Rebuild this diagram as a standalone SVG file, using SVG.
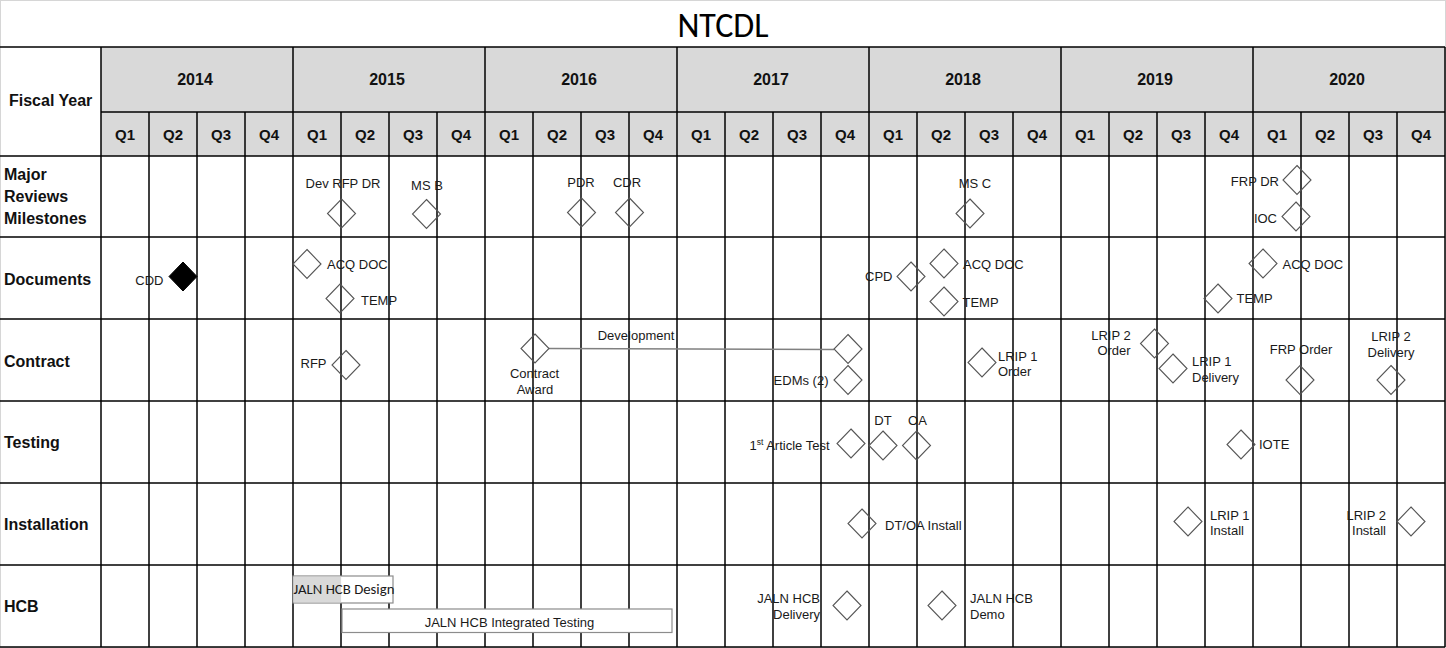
<svg xmlns="http://www.w3.org/2000/svg" xmlns:xlink="http://www.w3.org/1999/xlink" width="1446" height="648" viewBox="0 0 1446 648">
  <style>
    .grid { stroke: #000; stroke-width: 1.5; fill: none; }
    .hdr { fill: #d9d9d9; }
    .yr { font-family: "Liberation Sans", Arial, sans-serif; font-size: 16px; font-weight: bold; text-anchor: middle; fill: #111; }
    .q { font-family: "Liberation Sans", Arial, sans-serif; font-size: 15px; font-weight: bold; text-anchor: middle; fill: #111; }
    .row { font-family: "Liberation Sans", Arial, sans-serif; font-size: 16px; font-weight: bold; fill: #111; }
    .lbl { font-family: "Liberation Sans", Arial, sans-serif; font-size: 13px; fill: #1a1a1a; }
    .mid { text-anchor: middle; }
    .end { text-anchor: end; }
    .dm { fill: none; stroke: #555; stroke-width: 1.1; }
    .dm-solid { fill: #000; stroke: #000; stroke-width: 1; }
    .bar { fill: #fff; stroke: #8c8c8c; stroke-width: 1.2; }
    .conn { stroke: #808080; stroke-width: 1.5; fill: none; }
  </style>
  <defs>
    <path id="dm" d="M0,-14.5 L14,0 L0,14.5 L-14,0 Z"/>
  </defs>

  <!-- background and outer frame -->
  <rect x="0" y="0" width="1446" height="648" fill="#fff"/>
  <rect x="0.5" y="0.5" width="1445" height="647" fill="none" stroke="#d6d6d6" stroke-width="1"/>

  <!-- title -->
  <text x="723" y="36.5" text-anchor="middle" font-family="Carlito, 'Liberation Sans', Arial, sans-serif" font-size="34" fill="#000">NTCDL</text>

  <!-- header band -->
  <rect class="hdr" x="101" y="47" width="1344" height="109"/>

  <!-- grid -->
  <g id="grid" class="grid">
    <line x1="0" y1="47" x2="1445" y2="47"/>
    <line x1="101" y1="112" x2="1445" y2="112"/>
    <line x1="0" y1="156" x2="1445" y2="156"/>
    <line x1="0" y1="237" x2="1445" y2="237"/>
    <line x1="0" y1="319" x2="1445" y2="319"/>
    <line x1="0" y1="401" x2="1445" y2="401"/>
    <line x1="0" y1="483" x2="1445" y2="483"/>
    <line x1="0" y1="565" x2="1445" y2="565"/>
    <line x1="0" y1="647" x2="1445" y2="647"/>
    <!-- year boundaries -->
    <line x1="101" y1="47" x2="101" y2="647"/>
    <line x1="293" y1="47" x2="293" y2="647"/>
    <line x1="485" y1="47" x2="485" y2="647"/>
    <line x1="677" y1="47" x2="677" y2="647"/>
    <line x1="869" y1="47" x2="869" y2="647"/>
    <line x1="1061" y1="47" x2="1061" y2="647"/>
    <line x1="1253" y1="47" x2="1253" y2="647"/>
    <line x1="1445" y1="47" x2="1445" y2="647"/>
    <!-- quarter boundaries -->
    <line x1="149" y1="112" x2="149" y2="647"/>
    <line x1="197" y1="112" x2="197" y2="647"/>
    <line x1="245" y1="112" x2="245" y2="647"/>
    <line x1="341" y1="112" x2="341" y2="647"/>
    <line x1="389" y1="112" x2="389" y2="647"/>
    <line x1="437" y1="112" x2="437" y2="647"/>
    <line x1="533" y1="112" x2="533" y2="647"/>
    <line x1="581" y1="112" x2="581" y2="647"/>
    <line x1="629" y1="112" x2="629" y2="647"/>
    <line x1="725" y1="112" x2="725" y2="647"/>
    <line x1="773" y1="112" x2="773" y2="647"/>
    <line x1="821" y1="112" x2="821" y2="647"/>
    <line x1="917" y1="112" x2="917" y2="647"/>
    <line x1="965" y1="112" x2="965" y2="647"/>
    <line x1="1013" y1="112" x2="1013" y2="647"/>
    <line x1="1109" y1="112" x2="1109" y2="647"/>
    <line x1="1157" y1="112" x2="1157" y2="647"/>
    <line x1="1205" y1="112" x2="1205" y2="647"/>
    <line x1="1301" y1="112" x2="1301" y2="647"/>
    <line x1="1349" y1="112" x2="1349" y2="647"/>
    <line x1="1397" y1="112" x2="1397" y2="647"/>
  </g>

  <!-- header labels -->
  <g id="header">
    <text class="row" x="9" y="106">Fiscal Year</text>
    <text class="yr" x="195" y="85">2014</text>
    <text class="yr" x="387" y="85">2015</text>
    <text class="yr" x="579" y="85">2016</text>
    <text class="yr" x="771" y="85">2017</text>
    <text class="yr" x="963" y="85">2018</text>
    <text class="yr" x="1155" y="85">2019</text>
    <text class="yr" x="1347" y="85">2020</text>
    <g class="q">
      <text x="125" y="140">Q1</text><text x="173" y="140">Q2</text><text x="221" y="140">Q3</text><text x="269" y="140">Q4</text>
      <text x="317" y="140">Q1</text><text x="365" y="140">Q2</text><text x="413" y="140">Q3</text><text x="461" y="140">Q4</text>
      <text x="509" y="140">Q1</text><text x="557" y="140">Q2</text><text x="605" y="140">Q3</text><text x="653" y="140">Q4</text>
      <text x="701" y="140">Q1</text><text x="749" y="140">Q2</text><text x="797" y="140">Q3</text><text x="845" y="140">Q4</text>
      <text x="893" y="140">Q1</text><text x="941" y="140">Q2</text><text x="989" y="140">Q3</text><text x="1037" y="140">Q4</text>
      <text x="1085" y="140">Q1</text><text x="1133" y="140">Q2</text><text x="1181" y="140">Q3</text><text x="1229" y="140">Q4</text>
      <text x="1277" y="140">Q1</text><text x="1325" y="140">Q2</text><text x="1373" y="140">Q3</text><text x="1421" y="140">Q4</text>
    </g>
  </g>

  <!-- row labels -->
  <g id="row-labels">
    <text class="row" x="4" y="180">Major</text>
    <text class="row" x="4" y="202">Reviews</text>
    <text class="row" x="4" y="224">Milestones</text>
    <text class="row" x="4" y="285">Documents</text>
    <text class="row" x="4" y="367">Contract</text>
    <text class="row" x="4" y="448">Testing</text>
    <text class="row" x="4" y="530">Installation</text>
    <text class="row" x="4" y="612">HCB</text>
  </g>

  <!-- connectors -->
  <g id="connectors">
    <line class="conn" x1="549" y1="348.5" x2="834" y2="349.5"/>
  </g>

  <!-- Major Reviews / Milestones -->
  <g id="dev-rfp-dr"><use href="#dm" class="dm" x="341.5" y="213.5"/><text class="lbl mid" x="343" y="188">Dev RFP DR</text></g>
  <g id="ms-b"><use href="#dm" class="dm" x="426.5" y="214"/><text class="lbl mid" x="427" y="190">MS B</text></g>
  <g id="pdr"><use href="#dm" class="dm" x="581.5" y="212.5"/><text class="lbl mid" x="581" y="187">PDR</text></g>
  <g id="cdr"><use href="#dm" class="dm" x="629.5" y="212.5"/><text class="lbl mid" x="627" y="187">CDR</text></g>
  <g id="ms-c"><use href="#dm" class="dm" x="970" y="213.5"/><text class="lbl mid" x="975" y="188">MS C</text></g>
  <g id="frp-dr"><use href="#dm" class="dm" x="1297" y="180"/><text class="lbl end" x="1279" y="186">FRP DR</text></g>
  <g id="ioc"><use href="#dm" class="dm" x="1296" y="216.5"/><text class="lbl end" x="1277" y="223">IOC</text></g>

  <!-- Documents -->
  <g id="cdd"><use href="#dm" class="dm-solid" x="183" y="276.5"/><text class="lbl end" x="163.5" y="285">CDD</text></g>
  <g id="acq-doc-2015"><use href="#dm" class="dm" x="307" y="264"/><text class="lbl" x="327" y="269">ACQ DOC</text></g>
  <g id="temp-2015"><use href="#dm" class="dm" x="340" y="298.5"/><text class="lbl" x="361" y="305">TEMP</text></g>
  <g id="cpd"><use href="#dm" class="dm" x="911" y="276.5"/><text class="lbl end" x="892.5" y="281">CPD</text></g>
  <g id="acq-doc-2018"><use href="#dm" class="dm" x="944" y="263.5"/><text class="lbl" x="963" y="268.5">ACQ DOC</text></g>
  <g id="temp-2018"><use href="#dm" class="dm" x="944" y="301.5"/><text class="lbl" x="962.5" y="307">TEMP</text></g>
  <g id="temp-2019"><use href="#dm" class="dm" x="1218" y="298.5"/><text class="lbl" x="1236.5" y="303">TEMP</text></g>
  <g id="acq-doc-2020"><use href="#dm" class="dm" x="1263" y="263.5"/><text class="lbl" x="1282.5" y="268.5">ACQ DOC</text></g>

  <!-- Contract -->
  <g id="rfp"><use href="#dm" class="dm" x="346" y="365"/><text class="lbl end" x="326.5" y="368">RFP</text></g>
  <g id="contract-award"><use href="#dm" class="dm" x="535" y="348.5"/><text class="lbl mid" x="534.5" y="378">Contract</text><text class="lbl mid" x="535" y="393.5">Award</text></g>
  <g id="development-label"><text class="lbl mid" x="636" y="340">Development</text></g>
  <g id="development-end"><use href="#dm" class="dm" x="848" y="349"/></g>
  <g id="edms"><use href="#dm" class="dm" x="848" y="380"/><text class="lbl end" x="828.5" y="385">EDMs (2)</text></g>
  <g id="lrip1-order"><use href="#dm" class="dm" x="982" y="362.5"/><text class="lbl" x="998" y="361">LRIP 1</text><text class="lbl" x="998" y="376">Order</text></g>
  <g id="lrip2-order"><use href="#dm" class="dm" x="1154.5" y="343.5"/><text class="lbl mid" x="1111" y="340">LRIP 2</text><text class="lbl mid" x="1114" y="355">Order</text></g>
  <g id="lrip1-delivery"><use href="#dm" class="dm" x="1173" y="368.5"/><text class="lbl" x="1192" y="366">LRIP 1</text><text class="lbl" x="1192" y="382">Delivery</text></g>
  <g id="frp-order"><use href="#dm" class="dm" x="1300" y="380"/><text class="lbl mid" x="1301" y="353.5">FRP Order</text></g>
  <g id="lrip2-delivery"><use href="#dm" class="dm" x="1391" y="380"/><text class="lbl mid" x="1391" y="341">LRIP 2</text><text class="lbl mid" x="1391" y="357">Delivery</text></g>

  <!-- Testing -->
  <g id="first-article-test"><use href="#dm" class="dm" x="851" y="443.5"/><text class="lbl end" x="829.5" y="449.5">1<tspan font-size="8.5" dy="-4.5">st</tspan><tspan dy="4.5"> Article Test</tspan></text></g>
  <g id="dt"><use href="#dm" class="dm" x="883" y="445.5"/><text class="lbl mid" x="883" y="425">DT</text></g>
  <g id="oa"><use href="#dm" class="dm" x="916.5" y="445.5"/><text class="lbl mid" x="917.5" y="425">OA</text></g>
  <g id="iote"><use href="#dm" class="dm" x="1241" y="444.5"/><text class="lbl" x="1259" y="448.5">IOTE</text></g>

  <!-- Installation -->
  <g id="dt-oa-install"><use href="#dm" class="dm" x="862" y="523.5"/><text class="lbl" x="885" y="530">DT/OA Install</text></g>
  <g id="lrip1-install"><use href="#dm" class="dm" x="1188" y="521.5"/><text class="lbl" x="1210" y="519.5">LRIP 1</text><text class="lbl" x="1210" y="535">Install</text></g>
  <g id="lrip2-install"><use href="#dm" class="dm" x="1411" y="521.5"/><text class="lbl end" x="1386" y="519.5">LRIP 2</text><text class="lbl end" x="1386" y="535">Install</text></g>

  <!-- HCB -->
  <g id="jaln-hcb-design">
    <rect class="bar" x="293" y="576" width="100" height="27"/>
    <rect x="293.6" y="576.6" width="47.5" height="25.8" fill="#d9d9d9"/>
    <text x="293.5" y="594" font-family="Carlito, 'Liberation Sans', Arial, sans-serif" font-size="14" fill="#1a1a1a" textLength="101" lengthAdjust="spacingAndGlyphs">JALN HCB Design</text>
  </g>
  <g id="jaln-hcb-integrated-testing">
    <rect class="bar" x="342" y="609" width="330" height="23.5"/>
    <text class="lbl mid" x="509.5" y="626.5">JALN HCB Integrated Testing</text>
  </g>
  <g id="jaln-hcb-delivery"><use href="#dm" class="dm" x="847" y="605.5"/><text class="lbl end" x="820" y="603">JALN HCB</text><text class="lbl end" x="820" y="618.5">Delivery</text></g>
  <g id="jaln-hcb-demo"><use href="#dm" class="dm" x="942" y="605.5"/><text class="lbl" x="970" y="603">JALN HCB</text><text class="lbl" x="970" y="618.5">Demo</text></g>
</svg>
